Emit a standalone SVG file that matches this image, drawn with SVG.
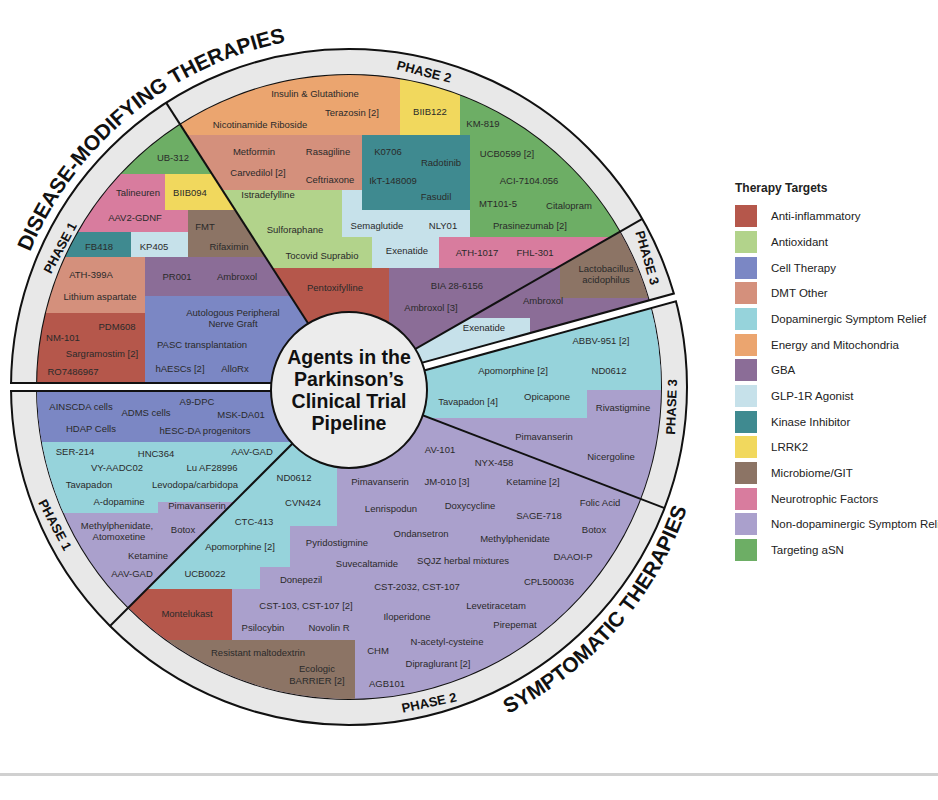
<svg xmlns="http://www.w3.org/2000/svg" width="938" height="800" viewBox="0 0 938 800">
<style>
.ai{fill:#b5574b}.ao{fill:#b2d38b}.ct{fill:#7b87c4}.do{fill:#d4907c}.dp{fill:#96d3db}.en{fill:#eba56f}.gb{fill:#8b6d97}.gl{fill:#c6e1ea}.ki{fill:#3f8a90}.lr{fill:#f1d85d}.mi{fill:#8c7465}.nt{fill:#d87c9e}.nd{fill:#aaa0cc}.as{fill:#6dae65}
.t{font-family:"Liberation Sans",Arial,sans-serif;font-size:9.5px;fill:#2a2a2a;text-anchor:middle}
.ph{font-family:"Liberation Sans",Arial,sans-serif;font-size:13px;font-weight:bold;fill:#111;text-anchor:middle}
.big{font-family:"Liberation Sans",Arial,sans-serif;font-size:21px;font-weight:bold;fill:#111}
.ttl{font-family:"Liberation Sans",Arial,sans-serif;font-size:19.5px;font-weight:bold;fill:#111;text-anchor:middle}
.lg{font-family:"Liberation Sans",Arial,sans-serif;font-size:11.5px;fill:#222}
.ln{stroke:#111;stroke-width:2;fill:none}
</style>
<defs>
<clipPath id="d1"><path d="M349,387 L37,387 A312,312 0 0 1 180.5,124.5 Z"/></clipPath>
<clipPath id="d2"><path d="M349,387 L180.5,124.5 A312,312 0 0 1 619.8,231.9 Z"/></clipPath>
<clipPath id="d3"><path d="M349,387 L619.8,231.9 A312,312 0 0 1 649.8,304.1 Z"/></clipPath>
<clipPath id="s3"><path d="M349,387 L649.8,304.1 A312,312 0 0 1 640.3,498.8 Z"/></clipPath>
<clipPath id="s2"><path d="M349,387 L640.3,498.8 A312,312 0 0 1 128.4,607.6 Z"/></clipPath>
<clipPath id="s1"><path d="M349,387 L128.4,607.6 A312,312 0 0 1 37,387 Z"/></clipPath>
<path id="arcD" d="M30,252 A352,352 0 0 1 330,36"/>
<path id="arcS" d="M508,714 A362,362 0 0 0 705,425"/>
</defs>
<rect width="938" height="800" fill="#fff"/>
<rect x="0" y="773" width="938" height="3" fill="#d0d0d0"/>

<g id="ring">
<circle cx="349" cy="387" r="338" fill="#e8e8e8" stroke="#111" stroke-width="2"/>
<circle cx="349" cy="387" r="312" fill="#fff" stroke="#111" stroke-width="2"/>
</g>

<g id="dmt-phase1" clip-path="url(#d1)">
<rect class="as" x="0" y="0" width="400" height="174"/>
<rect class="nt" x="0" y="174" width="188" height="58"/>
<rect class="lr" x="165" y="174" width="70" height="36"/>
<rect class="mi" x="188" y="210" width="120" height="47"/>
<rect class="ki" x="0" y="232" width="131" height="25"/>
<rect class="gl" x="131" y="232" width="57" height="25"/>
<rect class="do" x="0" y="257" width="145" height="56"/>
<rect class="gb" x="145" y="257" width="255" height="39"/>
<rect class="ai" x="0" y="313" width="145" height="80"/>
<rect class="ct" x="145" y="296" width="255" height="97"/>
<text class="t" x="173" y="161">UB-312</text>
<text class="t" x="138" y="196">Talineuren</text>
<text class="t" x="190" y="196">BIIB094</text>
<text class="t" x="135" y="221">AAV2-GDNF</text>
<text class="t" x="205" y="230">FMT</text>
<text class="t" x="229" y="250">Rifaximin</text>
<text class="t" x="99" y="250">FB418</text>
<text class="t" x="154" y="250">KP405</text>
<text class="t" x="91" y="278">ATH-399A</text>
<text class="t" x="100" y="300">Lithium aspartate</text>
<text class="t" x="177" y="280">PR001</text>
<text class="t" x="237" y="280">Ambroxol</text>
<text class="t" x="233" y="316">Autologous Peripheral</text>
<text class="t" x="233" y="327">Nerve Graft</text>
<text class="t" x="117" y="330">PDM608</text>
<text class="t" x="63" y="341">NM-101</text>
<text class="t" x="102" y="357">Sargramostim [2]</text>
<text class="t" x="202" y="348">PASC transplantation</text>
<text class="t" x="73" y="375">RO7486967</text>
<text class="t" x="180" y="372">hAESCs [2]</text>
<text class="t" x="235" y="372">AlloRx</text>
</g>

<g id="dmt-phase2" clip-path="url(#d2)">
<rect class="en" x="100" y="0" width="300" height="135"/>
<rect class="lr" x="400" y="0" width="60" height="135"/>
<rect class="as" x="460" y="0" width="200" height="237"/>
<rect class="do" x="100" y="135" width="262" height="55"/>
<rect class="ao" x="100" y="190" width="272" height="78"/>
<rect class="gl" x="342" y="190" width="128" height="47"/>
<rect class="gl" x="372" y="237" width="67" height="31"/>
<rect class="ki" x="362" y="135" width="108" height="75"/>
<rect class="nt" x="439" y="237" width="220" height="31"/>
<rect class="ai" x="100" y="268" width="289" height="130"/>
<rect class="gb" x="389" y="268" width="280" height="130"/>
<text class="t" x="315" y="97">Insulin &amp; Glutathione</text>
<text class="t" x="352" y="116">Terazosin [2]</text>
<text class="t" x="260" y="128">Nicotinamide Riboside</text>
<text class="t" x="430" y="115">BIIB122</text>
<text class="t" x="483" y="127">KM-819</text>
<text class="t" x="254" y="155">Metformin</text>
<text class="t" x="328" y="155">Rasagiline</text>
<text class="t" x="258" y="176">Carvedilol [2]</text>
<text class="t" x="330" y="183">Ceftriaxone</text>
<text class="t" x="268" y="198">Istradefylline</text>
<text class="t" x="388" y="155">K0706</text>
<text class="t" x="441" y="166">Radotinib</text>
<text class="t" x="393" y="184">IkT-148009</text>
<text class="t" x="436" y="200">Fasudil</text>
<text class="t" x="507" y="157">UCB0599 [2]</text>
<text class="t" x="529" y="184">ACI-7104.056</text>
<text class="t" x="498" y="207">MT101-5</text>
<text class="t" x="569" y="209">Citalopram</text>
<text class="t" x="530" y="229">Prasinezumab [2]</text>
<text class="t" x="295" y="233">Sulforaphane</text>
<text class="t" x="377" y="229">Semaglutide</text>
<text class="t" x="443" y="229">NLY01</text>
<text class="t" x="322" y="259">Tocovid Suprabio</text>
<text class="t" x="407" y="254">Exenatide</text>
<text class="t" x="477" y="256">ATH-1017</text>
<text class="t" x="535" y="256">FHL-301</text>
<text class="t" x="335" y="291">Pentoxifylline</text>
<text class="t" x="457" y="289">BIA 28-6156</text>
<text class="t" x="431" y="311">Ambroxol [3]</text>
</g>

<g id="dmt-phase3" clip-path="url(#d3)">
<rect class="gb" x="380" y="200" width="300" height="200"/>
<rect class="mi" x="560" y="200" width="120" height="98"/>
<rect class="gl" x="380" y="318" width="150" height="80"/>
<text class="t" x="606" y="272">Lactobacillus</text>
<text class="t" x="606" y="283">acidophilus</text>
<text class="t" x="543" y="304">Ambroxol</text>
<text class="t" x="484" y="331">Exenatide</text>
</g>

<g id="sym-phase3" clip-path="url(#s3)">
<rect class="nd" x="380" y="280" width="300" height="230"/>
<rect class="dp" x="380" y="280" width="300" height="110"/>
<rect class="dp" x="380" y="390" width="207" height="28"/>
<text class="t" x="601" y="344">ABBV-951 [2]</text>
<text class="t" x="513" y="374">Apomorphine [2]</text>
<text class="t" x="609" y="374">ND0612</text>
<text class="t" x="468" y="405">Tavapadon [4]</text>
<text class="t" x="547" y="400">Opicapone</text>
<text class="t" x="623" y="411">Rivastigmine</text>
<text class="t" x="544" y="440">Pimavanserin</text>
<text class="t" x="611" y="460">Nicergoline</text>
</g>

<g id="sym-phase2" clip-path="url(#s2)">
<rect class="nd" x="30" y="380" width="640" height="350"/>
<rect class="dp" x="30" y="380" width="307" height="146"/>
<rect class="dp" x="30" y="526" width="260" height="41"/>
<rect class="dp" x="30" y="567" width="230" height="22"/>
<rect class="ai" x="30" y="589" width="202" height="51"/>
<rect class="mi" x="30" y="640" width="325" height="90"/>
<text class="t" x="294" y="481">ND0612</text>
<text class="t" x="303" y="506">CVN424</text>
<text class="t" x="254" y="525">CTC-413</text>
<text class="t" x="240" y="550">Apomorphine [2]</text>
<text class="t" x="205" y="577">UCB0022</text>
<text class="t" x="337" y="546">Pyridostigmine</text>
<text class="t" x="301" y="583">Donepezil</text>
<text class="t" x="187" y="617">Montelukast</text>
<text class="t" x="306" y="609">CST-103, CST-107 [2]</text>
<text class="t" x="263" y="631">Psilocybin</text>
<text class="t" x="329" y="631">Novolin R</text>
<text class="t" x="258" y="656">Resistant maltodextrin</text>
<text class="t" x="317" y="672">Ecologic</text>
<text class="t" x="317" y="684">BARRIER [2]</text>
<text class="t" x="378" y="654">CHM</text>
<text class="t" x="440" y="453">AV-101</text>
<text class="t" x="494" y="466">NYX-458</text>
<text class="t" x="380" y="485">Pimavanserin</text>
<text class="t" x="447" y="485">JM-010 [3]</text>
<text class="t" x="533" y="485">Ketamine [2]</text>
<text class="t" x="391" y="512">Lenrispodun</text>
<text class="t" x="470" y="509">Doxycycline</text>
<text class="t" x="539" y="519">SAGE-718</text>
<text class="t" x="600" y="506">Folic Acid</text>
<text class="t" x="421" y="537">Ondansetron</text>
<text class="t" x="515" y="542">Methylphenidate</text>
<text class="t" x="594" y="533">Botox</text>
<text class="t" x="367" y="567">Suvecaltamide</text>
<text class="t" x="463" y="564">SQJZ herbal mixtures</text>
<text class="t" x="573" y="560">DAAOI-P</text>
<text class="t" x="417" y="590">CST-2032, CST-107</text>
<text class="t" x="549" y="585">CPL500036</text>
<text class="t" x="496" y="609">Levetiracetam</text>
<text class="t" x="407" y="620">Iloperidone</text>
<text class="t" x="515" y="628">Pirepemat</text>
<text class="t" x="447" y="645">N-acetyl-cysteine</text>
<text class="t" x="438" y="667">Dipraglurant [2]</text>
<text class="t" x="387" y="687">AGB101</text>
</g>

<g id="sym-phase1" clip-path="url(#s1)">
<rect class="nd" x="30" y="380" width="330" height="240"/>
<rect class="ct" x="30" y="380" width="330" height="62"/>
<rect class="dp" x="30" y="442" width="330" height="60"/>
<rect class="dp" x="30" y="502" width="128" height="11"/>
<text class="t" x="81" y="410">AINSCDA cells</text>
<text class="t" x="146" y="416">ADMS cells</text>
<text class="t" x="197" y="405">A9-DPC</text>
<text class="t" x="241" y="418">MSK-DA01</text>
<text class="t" x="91" y="432">HDAP Cells</text>
<text class="t" x="205" y="434">hESC-DA progenitors</text>
<text class="t" x="75" y="455">SER-214</text>
<text class="t" x="156" y="457">HNC364</text>
<text class="t" x="252" y="455">AAV-GAD</text>
<text class="t" x="117" y="471">VY-AADC02</text>
<text class="t" x="212" y="471">Lu AF28996</text>
<text class="t" x="89" y="488">Tavapadon</text>
<text class="t" x="195" y="488">Levodopa/carbidopa</text>
<text class="t" x="119" y="505">A-dopamine</text>
<text class="t" x="197" y="509">Pimavanserin</text>
<text class="t" x="117" y="529">Methylphenidate,</text>
<text class="t" x="119" y="540">Atomoxetine</text>
<text class="t" x="183" y="533">Botox</text>
<text class="t" x="148" y="559">Ketamine</text>
<text class="t" x="132" y="577">AAV-GAD</text>
</g>

<g id="connectors">
<line class="ln" x1="349" y1="387" x2="166.1" y2="102.6"/>
<line class="ln" x1="349" y1="387" x2="642.3" y2="218.9"/>
<line class="ln" x1="349" y1="387" x2="664.6" y2="508.1"/>
<line class="ln" x1="349" y1="387" x2="110" y2="626"/>
<polyline points="10,387 349,387 674.9,297.4" fill="none" stroke="#111" stroke-width="10"/>
<polyline points="8,387 349,387 677,296.8" fill="none" stroke="#fff" stroke-width="6"/>
</g>

<g id="center">
<circle cx="349" cy="390" r="78" fill="#ececec" stroke="#111" stroke-width="2"/>
<text class="ttl" x="349" y="364">Agents in the</text>
<text class="ttl" x="349" y="386">Parkinson’s</text>
<text class="ttl" x="349" y="408">Clinical Trial</text>
<text class="ttl" x="349" y="430">Pipeline</text>
</g>

<g id="labels">
<text class="ph" transform="translate(423,76) rotate(14)">PHASE 2</text>
<text class="ph" transform="translate(64,250) rotate(-62)">PHASE 1</text>
<text class="ph" transform="translate(643,259) rotate(74)">PHASE 3</text>
<text class="ph" transform="translate(676,407) rotate(-88)">PHASE 3</text>
<text class="ph" transform="translate(51,527) rotate(62)">PHASE 1</text>
<text class="ph" transform="translate(430,707) rotate(-12)">PHASE 2</text>
<text class="big"><textPath href="#arcD">DISEASE-MODIFYING THERAPIES</textPath></text>
<text class="big"><textPath href="#arcS">SYMPTOMATIC THERAPIES</textPath></text>
</g>

<g id="legend">
<text x="735" y="192" font-family="Liberation Sans, Arial, sans-serif" font-size="12" font-weight="bold" fill="#222">Therapy Targets</text>
<rect class="ai" x="735" y="205" width="22" height="22"/><text class="lg" x="771" y="220">Anti-inflammatory</text>
<rect class="ao" x="735" y="231" width="22" height="22"/><text class="lg" x="771" y="246">Antioxidant</text>
<rect class="ct" x="735" y="257" width="22" height="22"/><text class="lg" x="771" y="272">Cell Therapy</text>
<rect class="do" x="735" y="282" width="22" height="22"/><text class="lg" x="771" y="297">DMT Other</text>
<rect class="dp" x="735" y="308" width="22" height="22"/><text class="lg" x="771" y="323">Dopaminergic Symptom Relief</text>
<rect class="en" x="735" y="334" width="22" height="22"/><text class="lg" x="771" y="349">Energy and Mitochondria</text>
<rect class="gb" x="735" y="359" width="22" height="22"/><text class="lg" x="771" y="374">GBA</text>
<rect class="gl" x="735" y="385" width="22" height="22"/><text class="lg" x="771" y="400">GLP-1R Agonist</text>
<rect class="ki" x="735" y="411" width="22" height="22"/><text class="lg" x="771" y="426">Kinase Inhibitor</text>
<rect class="lr" x="735" y="436" width="22" height="22"/><text class="lg" x="771" y="451">LRRK2</text>
<rect class="mi" x="735" y="462" width="22" height="22"/><text class="lg" x="771" y="477">Microbiome/GIT</text>
<rect class="nt" x="735" y="488" width="22" height="22"/><text class="lg" x="771" y="503">Neurotrophic Factors</text>
<rect class="nd" x="735" y="513" width="22" height="22"/><text class="lg" x="771" y="528">Non-dopaminergic Symptom Reli</text>
<rect class="as" x="735" y="539" width="22" height="22"/><text class="lg" x="771" y="554">Targeting aSN</text>
</g>
</svg>
